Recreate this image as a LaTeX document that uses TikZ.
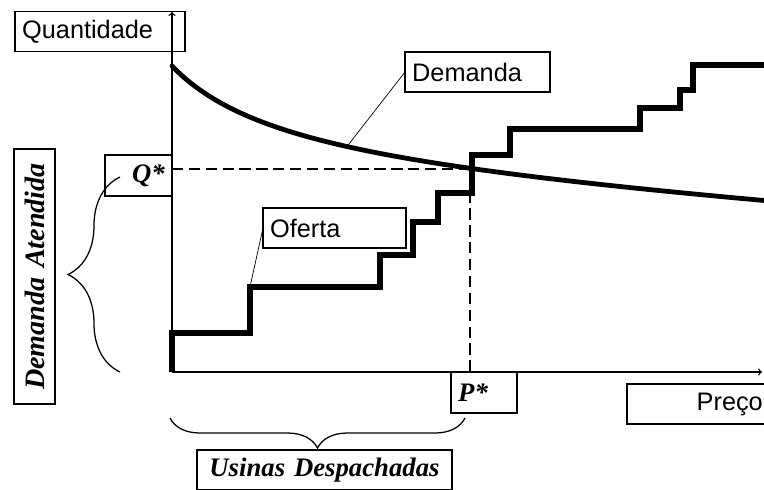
\documentclass[tikz,border=0pt]{standalone}
\usepackage{fontspec}
\setmainfont{Liberation Serif}
\newfontfamily\arial{Liberation Sans}
\usetikzlibrary{decorations.pathreplacing}
\tikzset{
	caixa/.style={draw, line width=0.9pt, minimum height=1cm, inner xsep=0.18cm, inner ysep=0pt, outer sep=0pt, font=\arial\fontsize{18}{20}\selectfont},
	caixab/.style={caixa, font=\bfseries\itshape\fontsize{19}{21}\selectfont},
	chave/.style={decorate, decoration={brace, amplitude=#1}, line width=0.9pt},
	guia/.style={line width=2pt, dash pattern=on 8pt off 4pt},
	seta/.style={line width=0.5pt}
}
\begin{document}
\begin{tikzpicture}[x=0.025cm, y=-0.025cm, line join=miter, >=to]
	%Margens.
	\useasboundingbox (0,0) rectangle (764,489);
	\clip (0,0) rectangle (764,489);
	%Pontos.
	\coordinate (O) at (172,372);
	\coordinate (E) at (470,169);
	\coordinate (dcurva) at (347,146.5);
	\coordinate (ocanto) at (250,287);
	%Eixos.
	\draw[->, line width=0.9pt] (O)--(172,12);
	\draw[->, line width=0.9pt] (O)--(762,372);
	%Equilibrio.
	\draw[guia] (172,169)--(E)--(470,372);
	%Demanda.
	\draw[line width=3.4pt, line cap=round, samples=120] plot[domain=0:600] ({172+\x}, {66+117.4*(\x/(\x+120))+0.0623*\x});
	%Oferta.
	\draw[line width=3.8pt] (O)--(172,333)--(250,333)--(250,287)--(380,287)--(380,255)--(413,255)--(413,222)--(438,222)--(438,193)--(472,193)--(472,155)--(510,155)--(510,129)--(640,129)--(640,108)--(680,108)--(680,90)--(693,90)--(693,65)--(775,65);
	%Rotulos.
	\node[caixa, text width=3.89cm, align=left] (quant) at (100,31.5) {Quantidade};
	\node[caixa, text width=3.265cm, align=left, fill=white] (demanda) at (477.5,72) {Demanda};
	\node[caixa, text width=3.215cm, align=left, fill=white] (oferta) at (334.5,228) {Oferta};
	\node[caixa, text width=3.215cm, align=right] (preco) at (698.5,404) {Preço};
	\node[caixab, text width=1.315cm, align=right, minimum height=1.025cm] (qstar) at (138.5,175.5) {Q*};
	\node[caixab, text width=1.29cm, align=left, minimum height=1.025cm] (pstar) at (484,392.5) {P*};
	\node[caixab, text width=6.015cm, align=center] (usinas) at (324.5,470) {Usinas Despachadas};
	\node[caixab, text width=6.015cm, align=center, minimum height=1.025cm, rotate=90, font=\bfseries\itshape\fontsize{20}{22}\selectfont] (atendida) at (34.5,276.5) {Demanda Atendida};
	\draw[seta] (demanda.west)--(dcurva);
	\draw[seta] (oferta.west)--(ocanto);
	%Chaves.
	\draw[chave=1.3cm] (120,372)--(120,177);
	\draw[chave=0.75cm] (465,418)--(170,418);
\end{tikzpicture}
\end{document}
